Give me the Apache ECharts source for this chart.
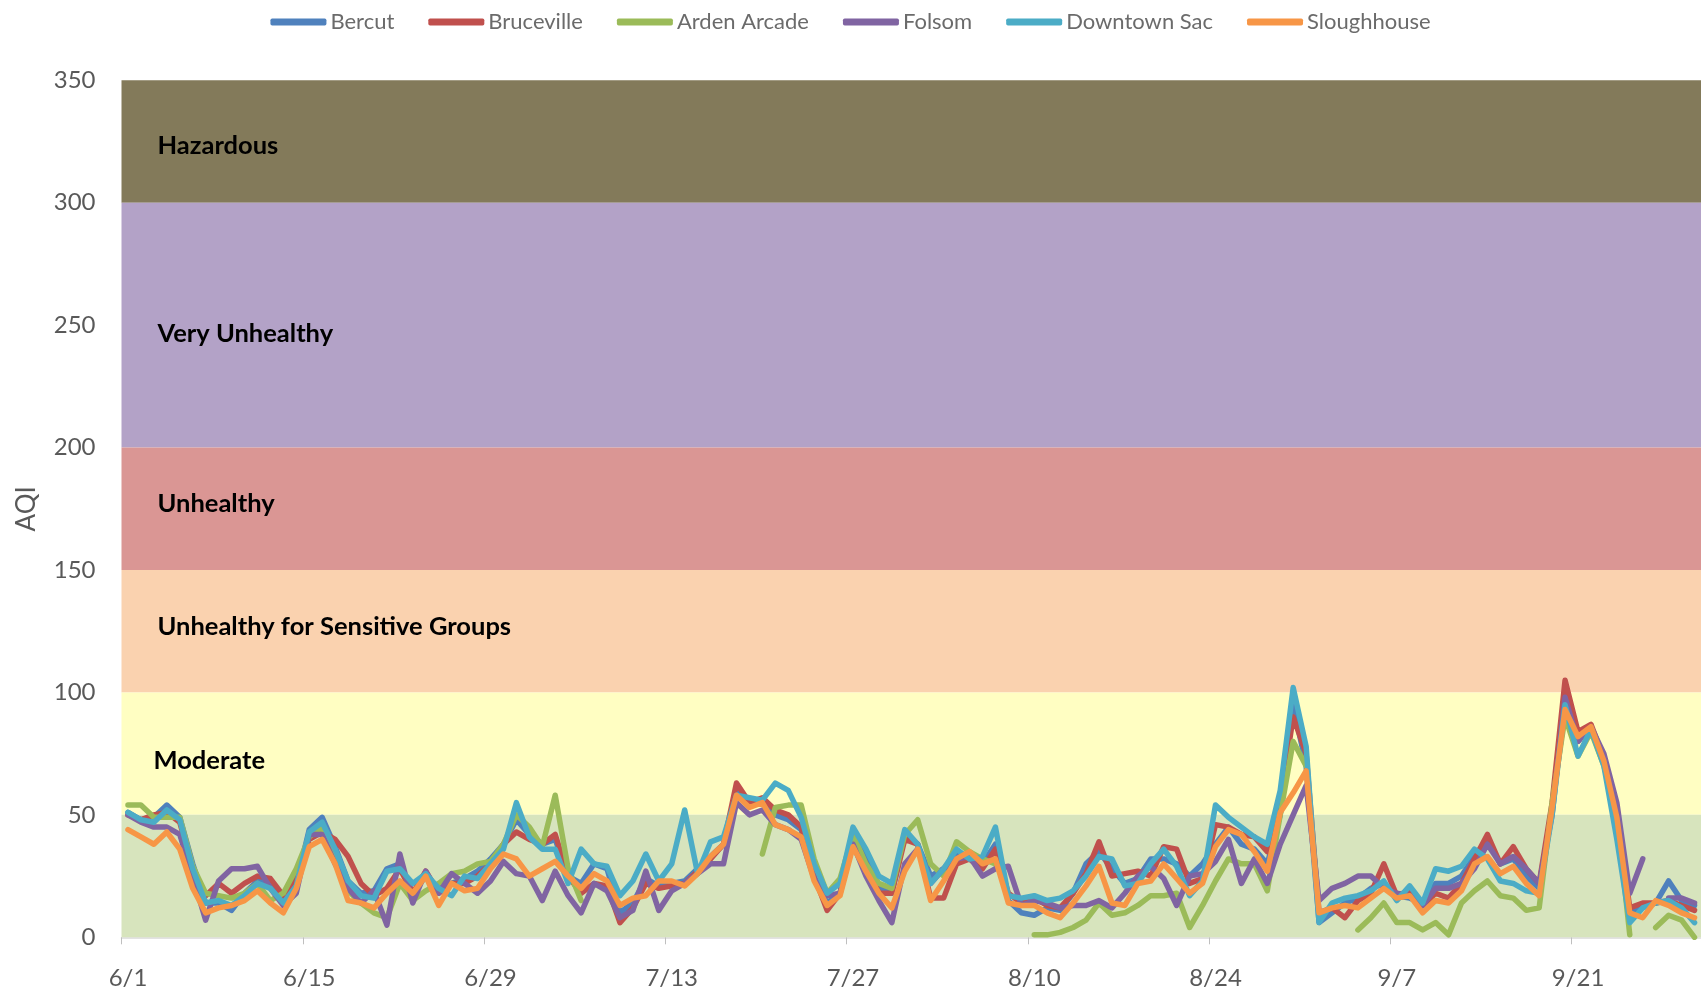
<!DOCTYPE html>
<html>
<head>
<meta charset="utf-8">
<script src="https://cdn.jsdelivr.net/npm/echarts@6/dist/echarts.min.js"></script>
<style>
html,body{margin:0;padding:0;background:#ffffff;}
#chart{width:1701px;height:998px;}
</style>
</head>
<body>
<div id="chart"></div>
<script>
// ---- categories (daily, 6/1 .. 9/30) ----
const monthDays = [[6, 30], [7, 31], [8, 31], [9, 30]];
const dates = [];
monthDays.forEach(function (md) { for (let d = 1; d <= md[1]; d++) dates.push(md[0] + '/' + d); });
const tickLabels = ['6/1', '6/15', '6/29', '7/13', '7/27', '8/10', '8/24', '9/7', '9/21'];

const seriesNames = ['Bercut', 'Bruceville', 'Arden Arcade', 'Folsom', 'Downtown Sac', 'Sloughhouse'];

// ---- series values (AQI), index 0 = 6/1 ----
const bercut = [
  51, 48, 49, 54, 49, 30, 14, 14, 11, 18, 23, 22, 14, 22, 44, 49, 37, 23, 18, 19,
  28, 30, 18, 25, 20, 22, 24, 27, 32, 38, 48, 42, 38, 40, 25, 22, 30, 28, 10, 14,
  24, 21, 22, 23, 28, 33, 38, 60, 55, 56, 50, 48, 44, 24, 14, 18, 42, 32, 20, 18,
  42, 38, 25, 28, 34, 32, 30, 38, 15, 10, 9, 12, 11, 18, 30, 35, 28, 22, 24, 32,
  32, 30, 25, 30, 38, 45, 38, 36, 30, 50, 95, 70, 6, 10, 14, 16, 20, 22, 17, 16, 14, 22,
  22, 25, 33, 40, 30, 32, 25, 20, 52, 100, 80, 86, 72, 45, 10, 13, 14, 23, 15, 13
];
const bruceville = [
  50, 48, 50, 51, 47, 28, 17, 22, 18, 22, 25, 24, 17, 25, 40, 43, 40, 33, 22, 17,
  20, 28, 18, 27, 18, 22, 22, 25, 30, 38, 43, 40, 38, 42, 25, 18, 22, 21, 6, 12,
  22, 20, 21, 22, 27, 32, 38, 63, 55, 57, 52, 50, 45, 25, 11, 18, 40, 30, 18, 18,
  40, 38, 16, 16, 30, 32, 28, 36, 18, 14, 16, 13, 12, 18, 26, 39, 25, 26, 27, 25,
  37, 36, 22, 24, 46, 45, 42, 41, 35, 55, 90, 75, 10, 12, 8, 15, 18, 30, 17, 19, 13, 18,
  16, 22, 32, 42, 30, 37, 28, 22, 55, 105, 84, 87, 73, 50, 12, 14, 14, 15, 13, 11
];
const ardenArcade = [
  54, 54, 49, 49, 49, 29, 18, 17, 16, 18, 22, 15, 18, 28, 41, 45, 33, 19, 14, 10,
  8, 22, 15, 19, 22, 26, 27, 30, 31, 38, 50, 45, 37, 58, 28, 15, null, null, null, null,
  null, null, null, null, null, null, null, null, null, 34, 53, 54, 54, 32, 18, 24, 42, 30, 22, 20,
  42, 48, 30, 25, 39, 35, 32, 30, null, null, 1, 1, 2, 4, 7, 14, 9, 10, 13, 17,
  17, 18, 4, 13, 23, 32, 30, 30, 19, 50, 80, 70, null, null, null, 3, 8, 14, 6, 6, 3, 6,
  1, 14, 19, 23, 17, 16, 11, 12, 55, 90, 74, 84, 70, 50, 1, null, 4, 9, 7, 0
];
const folsom = [
  50, 47, 45, 45, 42, 25, 7, 23, 28, 28, 29, 20, 13, 18, 42, 42, 30, 20, 14, 19,
  5, 34, 14, 27, 18, 26, 22, 18, 23, 31, 26, 25, 15, 27, 17, 10, 22, 19, 8, 11,
  27, 11, 19, 22, 26, 30, 30, 55, 50, 52, 46, 44, 40, 24, 17, 18, 38, 25, 15, 6,
  30, 36, 22, 28, 32, 33, 25, 28, 29, 13, 15, 14, 12, 13, 13, 15, 12, 18, 25, 29,
  24, 13, 25, 26, 31, 40, 22, 32, 22, 38, 50, 62, 15, 20, 22, 25, 25, 20, 18, 17, 13, 20,
  20, 22, 28, 38, 30, 33, 28, 22, 50, 98, 80, 86, 75, 55, 18, 32, null, 16, 16, 14
];
const downtownSac = [
  51, 48, 47, 52, 48, 28, 14, 15, 13, 17, 22, 20, 14, 21, 43, 47, 36, 23, 17, 16,
  27, 28, 22, 26, 20, 17, 25, 24, 30, 36, 55, 41, 36, 36, 22, 36, 30, 29, 17, 23,
  34, 23, 30, 52, 26, 39, 41, 58, 57, 56, 63, 60, 49, 30, 18, 22, 45, 36, 25, 22,
  44, 38, 22, 28, 36, 32, 33, 45, 17, 16, 17, 15, 16, 19, 25, 33, 32, 21, 22, 30,
  36, 29, 17, 23, 54, 49, 45, 41, 38, 60, 102, 78, 6, 14, 16, 17, 19, 23, 15, 21, 14, 28,
  27, 29, 36, 32, 23, 22, 19, 18, 50, 95, 74, 85, 70, 40, 6, 12, 14, 15, 12, 6
];
const sloughhouse = [
  44, 41, 38, 43, 36, 20, 10, 12, 13, 15, 19, 14, 10, 20, 37, 40, 30, 15, 14, 12,
  18, 23, 18, 25, 13, 22, 19, 20, 28, 34, 32, 25, 28, 31, 25, 20, 26, 23, 13, 16,
  17, 23, 23, 21, 26, 33, 38, 58, 53, 55, 46, 44, 41, 23, 13, 17, 37, 27, 18, 12,
  27, 36, 15, 23, 32, 35, 30, 32, 14, 13, 13, 10, 8, 14, 21, 29, 14, 13, 22, 23,
  30, 24, 18, 22, 37, 44, 42, 35, 27, 51, 59, 68, 10, 12, 13, 12, 16, 20, 16, 17, 10, 15,
  14, 19, 30, 33, 26, 29, 22, 17, 53, 93, 82, 86, 72, 49, 10, 8, 15, 13, 10, 8
];

// ---- AQI category bands ----
const bandNames = ['Hazardous', 'Very Unhealthy', 'Unhealthy', 'Unhealthy for Sensitive Groups', 'Moderate', ''];
const bandFrom  = [300, 200, 150, 100, 50, 0];
const bandTo    = [350, 300, 200, 150, 100, 50];

const yTicks = { min: 0, max: 350, interval: 50 };

// ---- styles ----
const lineColors = ['#4F81BD', '#C0504D', '#9BBB59', '#8064A2', '#4BACC6', '#F79646'];
const bandColors = ['#837A5A', '#B3A2C7', '#DA9694', '#FAD2AF', '#FFFEC2', '#D7E4BD'];
const bandLabelOffsets = [[0, 4], [0, 9], [0, -5], [0, -4], [-4, 7], [0, 0]];

const values = [bercut, bruceville, ardenArcade, folsom, downtownSac, sloughhouse];

const markData = bandNames.map(function (n, i) {
  return [
    {
      yAxis: bandFrom[i],
      itemStyle: { color: bandColors[i] },
      label: {
        show: n !== '',
        formatter: n,
        position: 'insideLeft',
        distance: 36,
        offset: bandLabelOffsets[i],
        color: '#000000',
        fontWeight: 'bold',
        fontSize: 25.5,
        fontFamily: 'Lato'
      }
    },
    { yAxis: bandTo[i] }
  ];
});

const series = [{
  name: 'bands',
  type: 'line',
  data: dates.map(function () { return null; }),
  z: 1,
  silent: true,
  markArea: { silent: true, data: markData }
}];

seriesNames.forEach(function (n, i) {
  series.push({
    name: n,
    type: 'line',
    data: values[i],
    z: 3 + i,
    symbol: 'none',
    connectNulls: false,
    smooth: false,
    lineStyle: { color: lineColors[i], width: 5.5, cap: 'round', join: 'round' },
    itemStyle: { color: lineColors[i] },
    emphasis: { disabled: true }
  });
});

const chart = echarts.init(document.getElementById('chart'), null, { renderer: 'canvas' });
chart.setOption({
  animation: false,
  backgroundColor: '#ffffff',
  textStyle: { fontFamily: 'Lato' },
  legend: {
    data: seriesNames,
    top: 6,
    left: 'center',
    icon: 'roundRect',
    itemWidth: 56,
    itemHeight: 7,
    itemGap: 34,
    textStyle: { color: '#6b6b6b', fontSize: 22, fontFamily: 'Lato', padding: [0, 0, 0, -1] }
  },
  grid: { left: 121.5, top: 80.3, width: 1582.3, height: 857, containLabel: false },
  xAxis: {
    type: 'category',
    data: dates,
    boundaryGap: true,
    axisLine: { show: true, lineStyle: { color: '#D9D9D9', width: 1.5 } },
    axisTick: { show: true, interval: 13, length: 7, lineStyle: { color: '#BFBFBF', width: 1 } },
    axisLabel: {
      interval: 13,
      color: '#595959',
      fontSize: 24,
      fontFamily: 'Lato',
      margin: 29,
      formatter: function (v) { return tickLabels.indexOf(v) >= 0 ? v : ''; }
    },
    splitLine: { show: false }
  },
  yAxis: {
    type: 'value',
    min: yTicks.min,
    max: yTicks.max,
    interval: yTicks.interval,
    name: 'AQI',
    nameLocation: 'middle',
    nameGap: 82,
    nameTextStyle: { color: '#595959', fontSize: 26, fontFamily: 'Lato' },
    axisLine: { show: false },
    axisTick: { show: false },
    splitLine: { show: false },
    axisLabel: { color: '#595959', fontSize: 24, fontFamily: 'Lato', margin: 26 }
  },
  series: series
});
</script>
</body>
</html>
